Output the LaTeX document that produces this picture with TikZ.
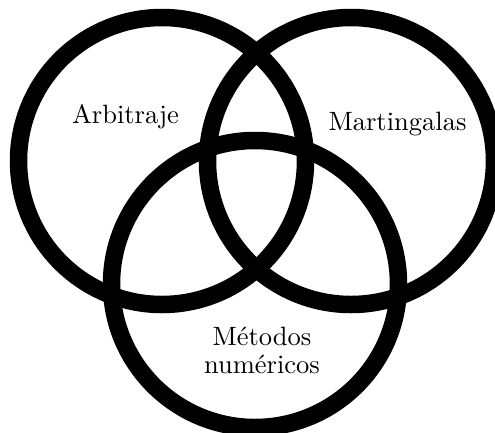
\documentclass[tikz,border=0pt]{standalone}
\usepackage{fontspec}
\setmainfont{lmroman10-regular}[Extension=.otf]
\begin{document}
\begin{tikzpicture}[x=1pt,y=-1pt,
  ring/.style={draw=black,line width=17.5pt},
  lbl/.style={font=\fontsize{26.5}{28}\selectfont,align=center,inner sep=0pt}]
\useasboundingbox (0,0) rectangle (495,432);
\clip (0,0) rectangle (495,432);
\draw[ring] (162,161) circle[radius=143.5];
\draw[ring] (351,161) circle[radius=143.5];
\draw[ring] (255,284) circle[radius=143.5];
\node[lbl,anchor=base] (arb) at (125.5,123) {Arbitraje};
\node[lbl,anchor=base] (mart) at (397.5,130) {Martingalas};
\node[lbl,anchor=base] (met) at (262,373) {Métodos\\numéricos};
\end{tikzpicture}
\end{document}
